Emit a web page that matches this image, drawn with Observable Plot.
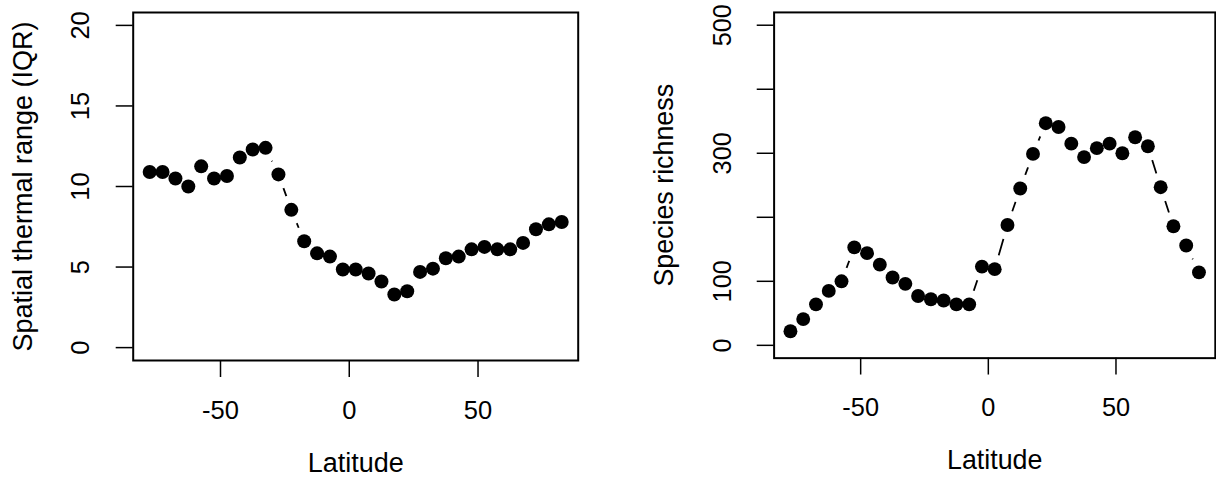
<!DOCTYPE html>
<html>
<head>
<meta charset="utf-8">
<script src="https://cdn.jsdelivr.net/npm/d3@7"></script>
<script src="https://cdn.jsdelivr.net/npm/@observablehq/plot@0.6"></script>
<style>
  html, body { margin: 0; padding: 0; background: #fff; overflow: hidden; }
  #wrap { position: relative; width: 1216px; height: 489px; overflow: hidden; background: #fff; }
  #left, #right { position: absolute; top: 0; }
  #left { left: 0; }
  #right { left: 608px; }
</style>
</head>
<body>
<div id="wrap"><div id="left"></div><div id="right"></div></div>
<script>
// ---- data ----
const latitude = [-77.5, -72.5, -67.5, -62.5, -57.5, -52.5, -47.5, -42.5, -37.5, -32.5, -27.5, -22.5, -17.5, -12.5, -7.5, -2.5,
                  2.5, 7.5, 12.5, 17.5, 22.5, 27.5, 32.5, 37.5, 42.5, 47.5, 52.5, 57.5, 62.5, 67.5, 72.5, 77.5, 82.5];
const thermalIQR = [10.9, 10.9, 10.5, 10.0, 11.25, 10.5, 10.65, 11.8, 12.3, 12.4, 10.75, 8.55, 6.6, 5.85, 5.65, 4.85,
                    4.85, 4.6, 4.1, 3.3, 3.5, 4.7, 4.9, 5.55, 5.65, 6.1, 6.25, 6.1, 6.1, 6.5, 7.35, 7.65, 7.8];
const richness = [22, 41, 64, 85, 100, 153, 144, 126, 106, 96, 77, 72, 70, 64, 64, 123,
                  119, 188, 245, 299, 347, 341, 315, 294, 308, 315, 300, 325, 311, 247, 186, 156, 114];
const xTicks = [-50, 0, 50];
const leftYTicks = [0, 5, 10, 15, 20];
const leftYLabels = [0, 5, 10, 15, 20];
const rightYTicks = [0, 100, 200, 300, 400, 500];
const rightYLabels = [0, 100, 300, 500];
const xTitle = "Latitude";
const leftYTitle = "Spatial thermal range (IQR)";
const rightYTitle = "Species richness";

const FONT = "'Liberation Sans', Arial, Helvetica, sans-serif";
const TICK_FS = 25.5;
const TITLE_FS = 27;

function panel(values, yDomain, yTicks, yLabels, yTitle, opts) {
  const data = latitude.map((lat, i) => ({lat, v: values[i]}));
  return Plot.plot({
    width: opts.width,
    height: 489,
    marginLeft: opts.marginLeft,
    marginRight: opts.marginRight,
    marginTop: 12,
    marginBottom: 129,
    style: {fontFamily: FONT, background: "white", color: "black", overflow: "visible"},
    x: {domain: [-83.9, 88.9]},
    y: {domain: yDomain},
    marks: [
      // connecting line (type = "b": segments with gaps around the points)
      Plot.line(data, {x: "lat", y: "v", stroke: "black", strokeWidth: 1.8}),
      Plot.dot(data, {x: "lat", y: "v", r: 14.5, fill: "white", stroke: "none"}),
      Plot.dot(data, {x: "lat", y: "v", r: 7, fill: "black", stroke: "none"}),
      Plot.frame({stroke: "black", strokeWidth: 2}),
      // axes ticks
      Plot.axisX({ticks: xTicks, tickSize: 17, tickFormat: () => "", label: null, strokeWidth: 1.5}),
      Plot.axisY({ticks: yTicks, tickSize: 17, tickFormat: () => "", label: null, strokeWidth: 1.5}),
      // tick labels
      Plot.text(xTicks, {x: d => d, text: d => String(d), frameAnchor: "bottom", dy: 50,
                         lineAnchor: "middle", fontSize: TICK_FS, fill: "black"}),
      Plot.text(yLabels, {y: d => d, text: d => String(d), frameAnchor: "left", dx: -52,
                          rotate: -90, lineAnchor: "middle", textAnchor: "middle", fontSize: TICK_FS, fill: "black"}),
      // axis titles
      Plot.text([xTitle], {text: d => d, frameAnchor: "bottom", dy: 103, lineAnchor: "middle",
                           fontSize: TITLE_FS, fill: "black"}),
      Plot.text([yTitle], {text: d => d, frameAnchor: "left", dx: -110, rotate: -90,
                           lineAnchor: "middle", textAnchor: "middle", fontSize: TITLE_FS, fill: "black"})
    ]
  });
}

document.getElementById("left").append(
  panel(thermalIQR, [-0.8, 20.8], leftYTicks, leftYLabels, leftYTitle,
        {width: 608, marginLeft: 132.7, marginRight: 30.3})
);
document.getElementById("right").append(
  panel(richness, [-20, 520], rightYTicks, rightYLabels, rightYTitle,
        {width: 612, marginLeft: 166.7, marginRight: 1.2})
);
</script>
</body>
</html>
